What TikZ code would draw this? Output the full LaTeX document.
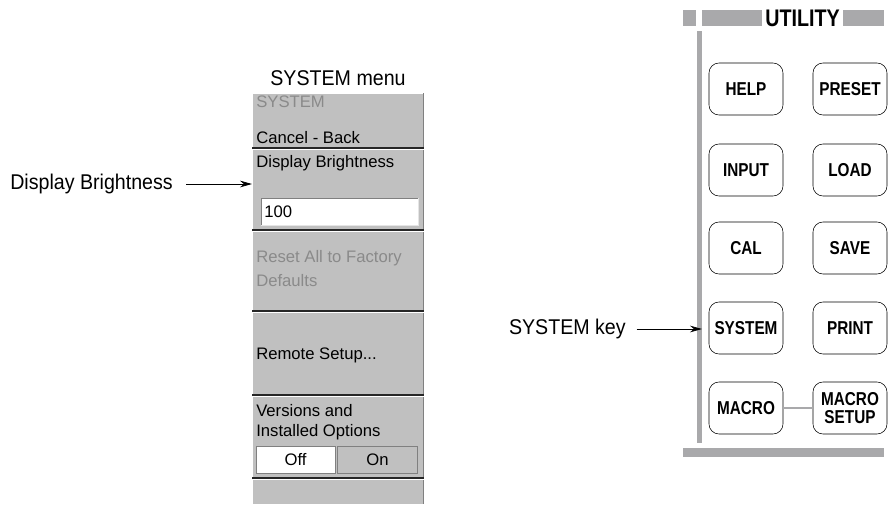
\documentclass[tikz,border=0pt]{standalone}
\usepackage{fontspec}
\setmainfont{Liberation Sans}
\newfontfamily\labelfont[FakeStretch=0.92]{Liberation Sans}
\newfontfamily\keyfont[FakeStretch=0.82]{Liberation Sans}
\usetikzlibrary{arrows.meta}
\usetikzlibrary{positioning}
\definecolor{menugray}{HTML}{C0C0C0}
\definecolor{dimtext}{HTML}{8A8A8A}
\definecolor{bargray}{HTML}{A9A9AB}
\tikzset{
  callout/.style={font=\labelfont\fontsize{16}{18}\selectfont, inner sep=0pt},
  menuitem/.style={font=\fontsize{12.5}{14}\selectfont, inner sep=0pt, anchor=west},
  dimitem/.style={menuitem, text=dimtext},
  utilkey/.style={draw, thin, rounded corners=7.5pt, minimum width=55.5pt, minimum height=39pt,
    inner sep=0pt, align=center, font=\keyfont\bfseries\fontsize{14}{13.5}\selectfont},
  pointer/.style={-{Stealth[length=9pt,width=5pt]}, semithick},
  divider/.style={line width=1pt, black!85}
}
\begin{document}
\begin{tikzpicture}[x=0.75pt,y=-0.75pt]
    \useasboundingbox (0,0) rectangle (890,504);
    % SYSTEM menu panel
    \fill[menugray] (252,93) rectangle (424,504);
    \draw[white] (252.5,504) -- (252.5,93.5) -- (424,93.5);
    \draw[gray] (423.5,93) -- (423.5,504);
    \node[callout] (menutitle) at (338,78) {SYSTEM menu};
    \node[dimitem] (sysitem) at (256,102) {SYSTEM};
    \node[menuitem] (cancel) at (256,138) {Cancel - Back};
    \foreach \y in {148,230,311,395,478} {
      \draw[divider] (252,\y) -- (424,\y);
      \draw[white] (252,\y+1.6) -- (424,\y+1.6);
    }
    \node[menuitem] (bright) at (256,163) {Display Brightness};
    \fill[white] (261,198) rectangle (418,225);
    \draw[gray] (261,225) -- (261,198) -- (418,198);
    \draw[white!90!black] (418,198) -- (418,225) -- (261,225);
    \node[menuitem] (brightval) at (264,212) {100};
    \node[dimitem] (reset) at (256,258) {Reset All to Factory};
    \node[dimitem] (defaults) at (256,281) {Defaults};
    \node[menuitem] (remote) at (256,355) {Remote Setup...};
    \node[menuitem] (versions) at (256,411) {Versions and};
    \node[menuitem] (installed) at (256,432) {Installed Options};
    \node[draw=gray, fill=white, minimum width=59pt, minimum height=20pt, inner sep=0pt,
      font=\fontsize{12.5}{14}\selectfont] (off) at (295.5,459.5) {Off};
    \node[draw=gray, fill=menugray, minimum width=60pt, minimum height=20pt, inner sep=0pt,
      font=\fontsize{12.5}{14}\selectfont] (on) at (377.5,459.5) {On};
    \node[callout, anchor=west] (brightlabel) at (10,184) {Display Brightness};
    \draw[pointer] (brightlabel.east) ++(10pt,0) -- (brightlabel.east -| 252,0);
    % UTILITY panel
    \fill[bargray] (683,10) rectangle (696,26);
    \fill[bargray] (702,10) rectangle (762,26);
    \node[font=\keyfont\bfseries\fontsize{18}{18}\selectfont, inner sep=0pt] (utiltitle) at (802.5,18) {UTILITY};
    \fill[bargray] (843,10) rectangle (884,26);
    \fill[bargray] (697,31) rectangle (702,443);
    \fill[bargray] (683,448) rectangle (884,457);
    \coordinate (barface) at (702,328);
    \node[utilkey] (help) at (746,89) {HELP};
    \node[utilkey] (preset) at (850,89) {PRESET};
    \node[utilkey] (input) at (746,170) {INPUT};
    \node[utilkey] (load) at (850,170) {LOAD};
    \node[utilkey] (cal) at (746,248) {CAL};
    \node[utilkey] (save) at (850,248) {SAVE};
    \node[utilkey] (system) at (746,328) {SYSTEM};
    \node[utilkey] (print) at (850,328) {PRINT};
    \node[utilkey] (macro) at (746,408) {MACRO};
    \node[utilkey] (macrosetup) at (850,408) {MACRO\\SETUP};
    \draw[bargray, line width=2.2pt] (macro) -- (macrosetup);
    \node[callout, anchor=east] (syslabel) at (626,329) {SYSTEM key};
    \draw[pointer] (syslabel.east) ++(8pt,0) -- (syslabel.east -| barface);
\end{tikzpicture}
\end{document}
